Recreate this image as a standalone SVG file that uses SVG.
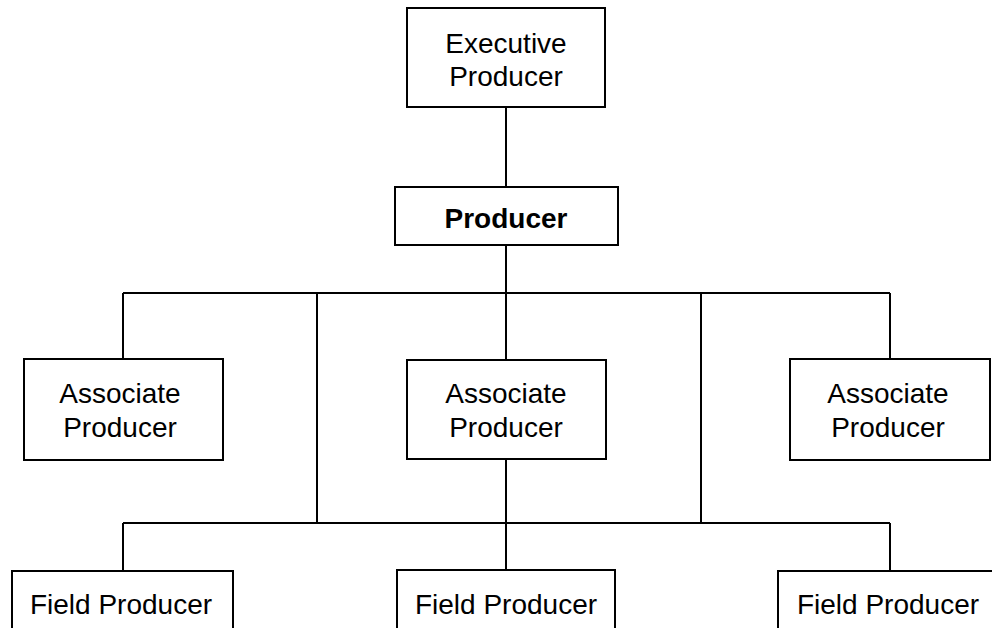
<svg xmlns="http://www.w3.org/2000/svg" width="992" height="628" viewBox="0 0 992 628">
<style>
.box{fill:#fff;stroke:#000;stroke-width:2}
.lbl{font-family:"Liberation Sans",Arial,sans-serif;font-size:28px;fill:#000;text-anchor:middle}
.bold{font-weight:bold}
.conn{stroke:#000;stroke-width:2;fill:none}
</style>
<rect width="992" height="628" fill="#fff"/>
<g id="connectors">
<path class="conn" d="M506 107V187M506 245V293M123 293H890M123 293V359M506 293V360M890 293V359M317 293V523M701 293V523M506 459V570M123 523H890M123 523V571M890 523V571"/>
</g>
<g id="exec"><rect class="box" x="407" y="8" width="198" height="99"/><text class="lbl" x="506" y="53">Executive</text><text class="lbl" x="506" y="86">Producer</text></g>
<g id="producer"><rect class="box" x="395" y="187" width="223" height="58"/><text class="lbl bold" x="506" y="228">Producer</text></g>
<g id="assoc1"><rect class="box" x="24" y="359" width="199" height="101"/><text class="lbl" x="120" y="403">Associate</text><text class="lbl" x="120" y="437">Producer</text></g>
<g id="assoc2"><rect class="box" x="407" y="360" width="199" height="99"/><text class="lbl" x="506" y="403">Associate</text><text class="lbl" x="506" y="437">Producer</text></g>
<g id="assoc3"><rect class="box" x="790" y="359" width="200" height="101"/><text class="lbl" x="888" y="403">Associate</text><text class="lbl" x="888" y="437">Producer</text></g>
<g id="field1"><rect class="box" x="12" y="571" width="221" height="80"/><text class="lbl" x="121" y="614">Field Producer</text></g>
<g id="field2"><rect class="box" x="397" y="570" width="218" height="80"/><text class="lbl" x="506" y="614">Field Producer</text></g>
<g id="field3"><rect class="box" x="778" y="571" width="230" height="80"/><text class="lbl" x="888" y="614">Field Producer</text></g>
</svg>
